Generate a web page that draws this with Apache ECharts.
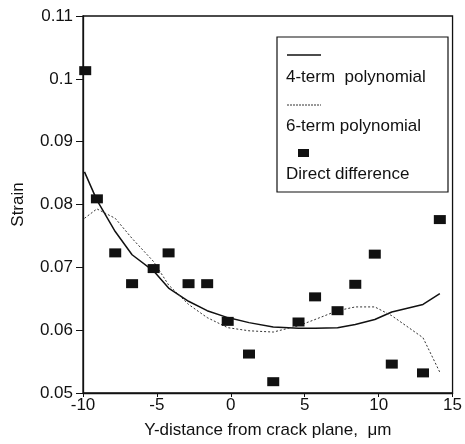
<!DOCTYPE html>
<html>
<head>
<meta charset="utf-8">
<script src="https://cdn.jsdelivr.net/npm/echarts@6/dist/echarts.min.js"></script>
<style>html,body{margin:0;padding:0;background:#fff}#c{width:465px;height:444px}</style>
</head>
<body>
<div id="c"></div>
<script>
// Direct difference points
var directX = [-9.85, -9.06, -7.82, -6.68, -5.22, -4.21, -2.86, -1.60, -0.21, 1.23, 2.87, 4.58, 5.70, 7.22, 8.42, 9.74, 10.89, 13.0, 14.14];
var directY = [0.1013, 0.0809, 0.0723, 0.0674, 0.0698, 0.0723, 0.0674, 0.0674, 0.0614, 0.0562, 0.0518, 0.0613, 0.0653, 0.0631, 0.0673, 0.0721, 0.0546, 0.0532, 0.0776];
// 4-term polynomial fit
var fit4X = [-9.9, -9.06, -7.82, -6.68, -5.22, -4.21, -2.86, -1.60, -0.21, 1.23, 2.87, 4.58, 5.70, 7.22, 8.42, 9.74, 10.89, 13.0, 14.14];
var fit4Y = [0.0852, 0.0807, 0.0757, 0.0720, 0.0694, 0.0667, 0.0646, 0.0631, 0.0620, 0.0612, 0.0605, 0.0603, 0.0603, 0.0604, 0.0609, 0.0617, 0.0629, 0.0641, 0.0658];
// 6-term polynomial fit
var fit6X = [-9.9, -9.06, -7.82, -6.68, -5.22, -4.21, -2.86, -1.60, -0.21, 1.23, 2.87, 4.58, 5.70, 7.22, 8.42, 9.74, 10.89, 13.0, 14.14];
var fit6Y = [0.0778, 0.0793, 0.0778, 0.0746, 0.0709, 0.0672, 0.0641, 0.0620, 0.0604, 0.0599, 0.0597, 0.0607, 0.0617, 0.0631, 0.0637, 0.0637, 0.0623, 0.0588, 0.0533];
// axes
var xTicks = [-10, -5, 0, 5, 10, 15];
var yTicks = [0.05, 0.06, 0.07, 0.08, 0.09, 0.1, 0.11];
var legendNames = ['4-term  polynomial', '6-term polynomial', 'Direct difference'];

function zip(a, b) { return a.map(function (v, i) { return [v, b[i]]; }); }

var FONT = '"Liberation Sans", Arial, sans-serif';
var FS = 17;
var chart = echarts.init(document.getElementById('c'), null, { renderer: 'canvas' });
chart.setOption({
  animation: false,
  backgroundColor: '#fff',
  grid: { left: 83, right: 11, top: 16, bottom: 48, show: true, borderColor: '#111', borderWidth: 1.3, backgroundColor: 'transparent' },
  xAxis: {
    type: 'value', min: xTicks[0], max: xTicks[xTicks.length - 1], interval: 5,
    name: 'Y-distance from crack plane,  μm', nameLocation: 'middle', nameGap: 29,
    nameTextStyle: { fontFamily: FONT, fontSize: FS, color: '#111' },
    axisLine: { onZero: false, lineStyle: { color: '#111', width: 1.3 } },
    axisTick: { show: true, length: 4, inside: false, lineStyle: { color: '#111' } },
    axisLabel: { fontFamily: FONT, fontSize: FS, color: '#111', margin: 4 },
    splitLine: { show: false }
  },
  yAxis: {
    type: 'value', min: yTicks[0], max: yTicks[yTicks.length - 1], interval: 0.01,
    name: 'Strain', nameLocation: 'middle', nameGap: 56, nameRotate: 90,
    nameTextStyle: { fontFamily: FONT, fontSize: FS, color: '#111' },
    axisLine: { onZero: false, lineStyle: { color: '#111', width: 1.3 } },
    axisTick: { show: true, length: 7, inside: false, lineStyle: { color: '#111' } },
    axisLabel: { fontFamily: FONT, fontSize: FS, color: '#111', margin: 10,
      formatter: function (v) { return String(+v.toFixed(2)); } },
    splitLine: { show: false }
  },
  series: [
    { name: legendNames[0], type: 'line', data: zip(fit4X, fit4Y), showSymbol: false, symbol: 'none',
      lineStyle: { color: '#111', width: 1.5, type: 'solid' }, z: 3 },
    { name: legendNames[1], type: 'line', data: zip(fit6X, fit6Y), showSymbol: false, symbol: 'none',
      lineStyle: { color: '#333', width: 1, type: [2, 2] }, z: 3 },
    { name: legendNames[2], type: 'scatter', data: zip(directX, directY), symbol: 'rect', symbolSize: [12, 9],
      itemStyle: { color: '#111', opacity: 1 }, z: 4 }
  ],
  graphic: [
    { type: 'rect', shape: { x: 277, y: 37, width: 171, height: 155 }, style: { fill: '#fff', stroke: '#111', lineWidth: 1.2 }, z: 10 },
    { type: 'line', shape: { x1: 287, y1: 55, x2: 321, y2: 55 }, style: { stroke: '#111', lineWidth: 1.5 }, z: 11 },
    { type: 'text', left: 286, top: 69, style: { text: legendNames[0], font: FS + 'px ' + FONT, fill: '#111' }, z: 11 },
    { type: 'line', shape: { x1: 287, y1: 105, x2: 321, y2: 105 }, style: { stroke: '#333', lineWidth: 1, lineDash: [2, 1] }, z: 11 },
    { type: 'text', left: 286, top: 118, style: { text: legendNames[1], font: FS + 'px ' + FONT, fill: '#111' }, z: 11 },
    { type: 'rect', shape: { x: 298, y: 149, width: 11, height: 8 }, style: { fill: '#111' }, z: 11 },
    { type: 'text', left: 286, top: 166, style: { text: legendNames[2], font: FS + 'px ' + FONT, fill: '#111' }, z: 11 }
  ]
});
</script>
</body>
</html>
